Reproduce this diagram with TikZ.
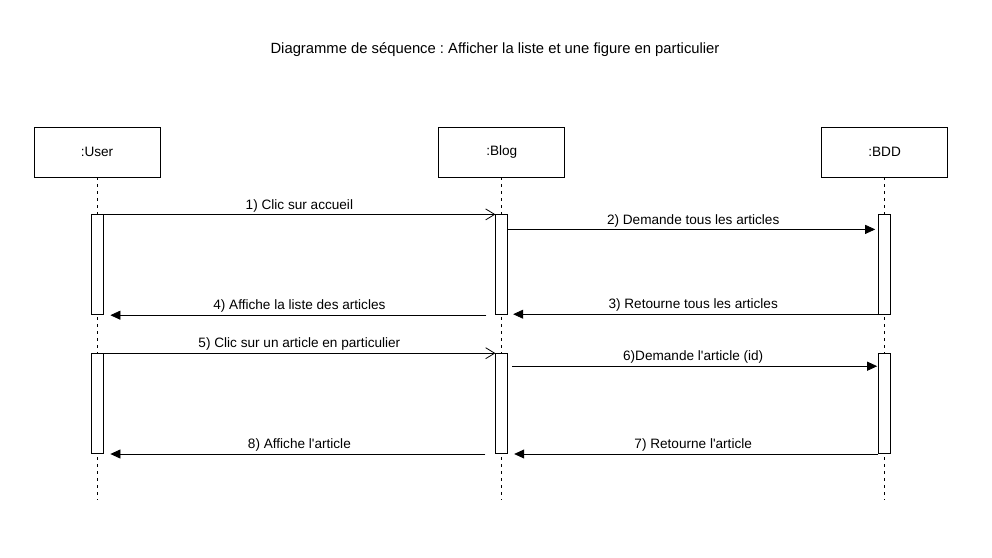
\documentclass[tikz,border=0pt]{standalone}
\usepackage{fontspec}
\setmainfont{Liberation Sans}
\usetikzlibrary{arrows.meta,positioning,calc}
\frenchspacing

\begin{document}
\begin{tikzpicture}[
    x=1pt, y=-1pt,
    line width=0.8pt,
    font=\fontsize{13.6}{16}\selectfont,
    actor/.style={rectangle, draw, minimum width=126pt, minimum height=50pt, align=center},
    activation/.style={rectangle, draw, fill=white, minimum width=12pt, minimum height=100pt, inner sep=0pt},
    lifeline/.style={dashed, dash pattern=on 3pt off 4pt},
    call/.style={-{Straight Barb[length=9pt,width=11pt]}},
    reply/.style={-{Triangle[length=10pt,width=9pt]}},
    msg/.style={above, inner sep=2pt, fill=white}
]
    \useasboundingbox (0,0) rectangle (992,557);

    % Title
    \node[font=\fontsize{14.8}{17}\selectfont] (title) at (495,50) {Diagramme de séquence : Afficher la liste et une figure en particulier};

    % Participants
    \node[actor] (user) at (97,152) {:User};
    \node[actor, right=278pt of user] (blog) {:Blog};
    \node[actor, right=256pt of blog] (bdd) {:BDD};

    % Lifelines
    \coordinate (userend) at (user.south |- 0,500);
    \coordinate (blogend) at (blog.south |- 0,500);
    \coordinate (bddend) at (bdd.south |- 0,500);
    \draw[lifeline] (user.south) -- (userend);
    \draw[lifeline] (blog.south) -- (blogend);
    \draw[lifeline] (bdd.south) -- (bddend);

    % Activations
    \node[activation, below=37pt of user] (u1) {};
    \node[activation, below=37pt of blog] (b1) {};
    \node[activation, below=37pt of bdd] (d1) {};
    \node[activation, below=38pt of u1] (u2) {};
    \node[activation, below=38pt of b1] (b2) {};
    \node[activation, below=38pt of d1] (d2) {};

    % Messages
    \draw[call] (u1.north east) -- (b1.north west) node[msg, midway] {1) Clic sur accueil};
    \draw[reply, shorten >=3pt] ([yshift=-15pt]b1.north east) -- ([yshift=-15pt]d1.north west) node[msg, midway] {2) Demande tous les articles};
    \draw[reply, shorten >=5pt] ([yshift=1pt]d1.south west) -- ([yshift=1pt]b1.south east) node[msg, midway] {3) Retourne tous les articles};
    \draw[reply, shorten <=9pt, shorten >=7pt] (b1.south west) -- (u1.south east) node[msg, midway] {4) Affiche la liste des articles};

    \draw[call] (u2.north east) -- (b2.north west) node[msg, midway] {5) Clic sur un article en particulier};
    \draw[reply, shorten <=4pt, shorten >=1pt] ([yshift=-13pt]b2.north east) -- ([yshift=-13pt]d2.north west) node[msg, midway] {6)Demande l\textquotesingle article (id)};
    \draw[reply, shorten >=6pt] (d2.south west) -- (b2.south east) node[msg, midway] {7) Retourne l\textquotesingle article};
    \draw[reply, shorten <=10pt, shorten >=7pt] (b2.south west) -- (u2.south east) node[msg, midway] {8) Affiche l\textquotesingle article};

\end{tikzpicture}
\end{document}
